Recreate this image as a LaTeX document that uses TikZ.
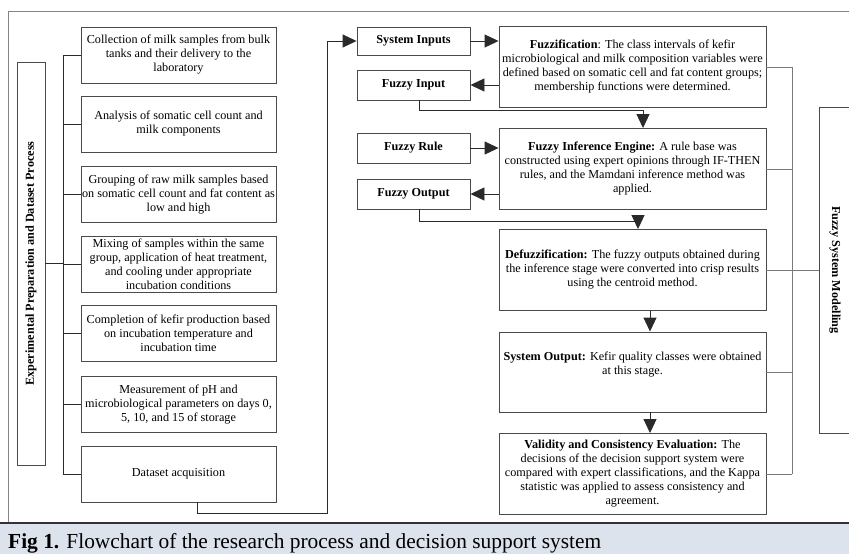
\documentclass[tikz,border=0pt]{standalone}
\usepackage{fontspec}
\setmainfont{Liberation Serif}
\usetikzlibrary{arrows.meta}
\definecolor{capbg}{HTML}{DCE3ED}
\definecolor{boxc}{HTML}{4A4A4A}
\definecolor{linec}{HTML}{2A2A2A}
\definecolor{brc}{HTML}{7A7A7A}
\definecolor{framec}{HTML}{858585}
\begin{document}
\begin{tikzpicture}[x=1pt,y=-1pt,
  box/.style={draw=boxc, line width=0.9pt, inner sep=0pt, align=center,
    font=\fontsize{12.2}{14}\selectfont},
  lbox/.style={box, minimum width=195pt, minimum height=56pt},
  sbox/.style={box, minimum width=113pt, minimum height=30pt, font=\fontsize{12.2}{14}\selectfont\bfseries},
  rbox/.style={box, minimum width=267pt, minimum height=81pt},
  conn/.style={draw=linec, line width=0.9pt},
  brk/.style={draw=brc, line width=0.9pt},
  arr/.style={conn, -{Triangle[length=14pt,width=13pt]}},
]
\useasboundingbox (0,0) rectangle (849,554);
\clip (0,0) rectangle (849,554);

% caption band and frame
\fill[capbg] (0,523) rectangle (849,554);
\draw[framec, line width=1pt] (8,523) -- (8,11) -- (860,11);
\draw[black!80, line width=2pt] (0,523) -- (849,523);
\node[anchor=base west, inner sep=0pt, font=\fontsize{21.4}{24}\selectfont] (cap) at (8,548)
  {\textbf{Fig 1.} Flowchart of the research process and decision support system};

% left side
\node[box, rotate=90, minimum width=403pt, minimum height=28pt, font=\fontsize{12.2}{14}\selectfont\bfseries] (L) at (31,263.5)
  {Experimental Preparation and Dataset Process};
\node[lbox] (b1) at (178.5,55) {Collection of milk samples from bulk\\tanks and their delivery to the\\laboratory};
\node[lbox] (b2) at (178.5,124) {Analysis of somatic cell count and\\milk components};
\node[lbox] (b3) at (178.5,194.5) {Grouping of raw milk samples based\\on somatic cell count and fat content as\\low and high};
\node[lbox] (b4) at (178.5,264.5) {Mixing of samples within the same\\group, application of heat treatment,\\and cooling under appropriate\\incubation conditions};
\node[lbox] (b5) at (178.5,333.5) {Completion of kefir production based\\on incubation temperature and\\incubation time};
\node[lbox] (b6) at (178.5,404.5) {Measurement of pH and\\microbiological parameters on days 0,\\5, 10, and 15 of storage};
\node[lbox] (b7) at (178.5,474) {Dataset acquisition};

\coordinate (spT) at (63,55);
\coordinate (spB) at (63,474);
\draw[conn] (spT) -- (spB);
\draw[conn] (L.south) -- (63,263.5);
\foreach \b in {b1,b2,b3,b4,b5,b6,b7} { \draw[conn] (\b.west) -- (spT |- \b.west); }

% small boxes
\node[sbox, minimum height=28pt] (SI) at (413.5,41) {System Inputs};
\node[sbox] (FI) at (413.5,85) {Fuzzy Input};
\node[sbox] (FR) at (413.5,148) {Fuzzy Rule};
\node[sbox] (FO) at (413.5,194) {Fuzzy Output};

% right boxes
\node[rbox] (Fz) at (632.5,67) {\textbf{Fuzzification}: The class intervals of kefir\\microbiological and milk composition variables were\\defined based on somatic cell and fat content groups;\\membership functions were determined.};
\node[rbox] (Inf) at (632.5,169) {\textbf{Fuzzy Inference Engine:} A rule base was\\constructed using expert opinions through IF-THEN\\rules, and the Mamdani inference method was\\applied.};
\node[rbox] (Def) at (632.5,270) {\textbf{Defuzzification:} The fuzzy outputs obtained during\\the inference stage were converted into crisp results\\using the centroid method.};
\node[rbox, minimum height=80pt] (SO) at (632.5,372) {\textbf{System Output:} Kefir quality classes were obtained\\at this stage.\\[4pt]\mbox{}};
\node[rbox] (Val) at (632.5,474) {\textbf{Validity and Consistency Evaluation:} The\\decisions of the decision support system were\\compared with expert classifications, and the Kappa\\statistic was applied to assess consistency and\\agreement.};

% right label
\node[box, rotate=-90, minimum width=326pt, minimum height=32pt, font=\fontsize{12.2}{14}\selectfont\bfseries] (R) at (835,270)
  {Fuzzy System Modelling};

% flow connectors
\coordinate (turn) at (327,513);
\draw[arr] ([xshift=18.5pt]b7.south) |- (turn) |- (SI.west);
\draw[arr] (SI.east) -- (Fz.west |- SI.east);
\draw[arr] (Fz.west |- FI.east) -- (FI.east);
\draw[arr] ([xshift=5.5pt]FI.south) -- ++(0,10) -| ([xshift=10.5pt]Inf.north);
\draw[arr] (FR.east) -- (Inf.west |- FR.east);
\draw[arr] (Inf.west |- FO.east) -- (FO.east);
\draw[arr] ([xshift=5.5pt]FO.south) -- ++(0,12) -| ([xshift=5.5pt]Def.north);
\draw[arr] ([xshift=17.5pt]Def.south) -- ([xshift=17.5pt]SO.north);
\draw[arr] ([xshift=17.5pt]SO.south) -- ([xshift=17.5pt]Val.north);

% bracket on right
\coordinate (brT) at (792,67);
\coordinate (brB) at (792,474);
\draw[brk] (brT) -- (brB);
\foreach \b in {Fz,Inf,Def,SO,Val} { \draw[brk] (\b.east) -- (brT |- \b.east); }
\draw[brk] (brT |- R.south) -- (R.south);
\end{tikzpicture}
\end{document}
